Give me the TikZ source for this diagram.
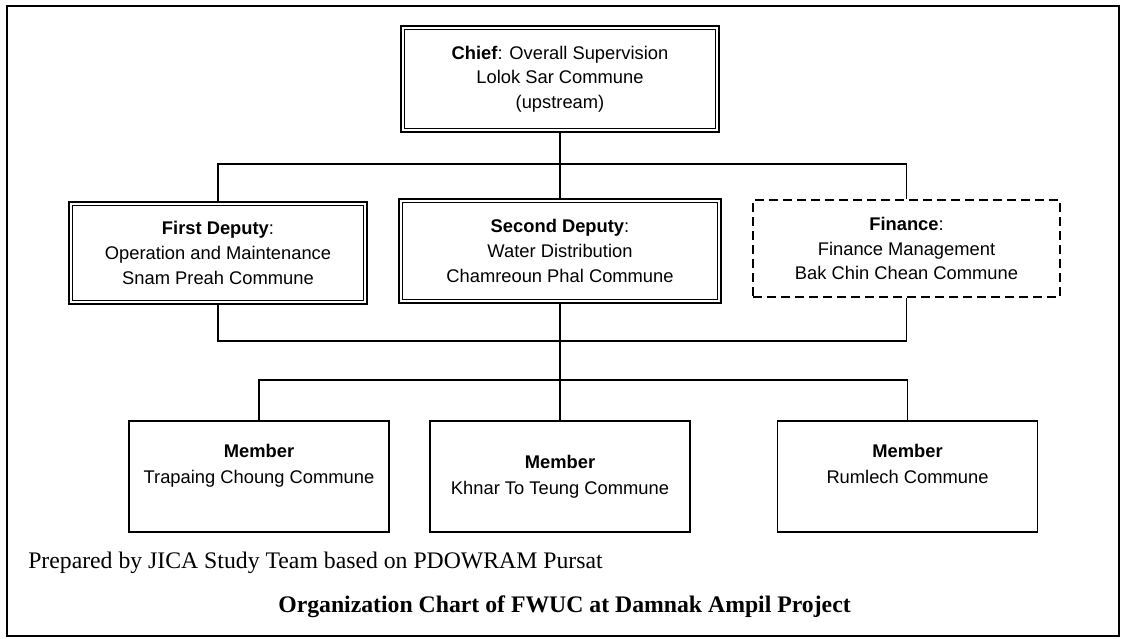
\documentclass[tikz,border=0pt]{standalone}
\usepackage{fontspec}
\setmainfont{Liberation Serif}
\newfontfamily\arialfont{Liberation Sans}
\tikzset{
  box/.style={draw, line width=1.1pt, align=center, inner sep=0pt,
    font=\arialfont\fontsize{13.75}{18.5}\selectfont},
  dblbox/.style={box, line width=1.4pt},
  dashbox/.style={box, line width=1pt, dash pattern=on 7pt off 3.5pt},
  membox/.style={box, minimum width=195pt, minimum height=83.25pt,
    font=\arialfont\fontsize{13.75}{19.5}\selectfont},
  link/.style={line width=0.8pt},
}
\begin{document}
\begin{tikzpicture}[x=0.75pt, y=-0.75pt]
      \useasboundingbox (0,0) rectangle (1122,639);
      \draw[line width=1.5pt] (7,6) rectangle (1119,636); % frame
      %
      \node[dblbox, minimum width=238.5pt, minimum height=79.5pt] (chief) at (560,79)
        {\textbf{Chief}: Overall Supervision\\Lolok Sar Commune\\(upstream)}; % top
      %
      \node[dblbox, minimum width=223.5pt, minimum height=76.5pt] (first) at (218,253)
        {\textbf{First Deputy}:\\Operation and Maintenance\\Snam Preah Commune}; % second row
      \node[dblbox, minimum width=241.5pt, minimum height=78pt] (second) at (560,251)
        {\textbf{Second Deputy}:\\Water Distribution\\Chamreoun Phal Commune};
      \node[dashbox, minimum width=230.25pt, minimum height=72.75pt] (finance) at (906.5,248.5)
        {\textbf{Finance}:\\Finance Management\\Bak Chin Chean Commune};
      %
      \foreach \n in {chief,first,second} % inner lines
        \draw[line width=0.75pt] ([shift={(4.5,4.5)}]\n.north west) rectangle ([shift={(-4.5,-4.5)}]\n.south east);
      %
      \node[membox] (trapaing) at (259,476.5)
        {\textbf{Member}\\Trapaing Choung Commune\\\mbox{}}; % members
      \node[membox] (khnar) at (560,476.5)
        {\textbf{Member}\\Khnar To Teung Commune};
      \node[membox] (rumlech) at (907.5,476.5)
        {\textbf{Member}\\Rumlech Commune\\\mbox{}};
      %
      \coordinate (upbus) at (560,164); % bus lines
      \coordinate (midbus) at (560,341);
      \coordinate (lowbus) at (560,380);
      %
      \draw[link] (chief.south) -- (second.north);
      \draw[link] (first.north) |- (upbus) -| (finance.north);
      \draw[link] (first.south) |- (midbus) -| (finance.south);
      \draw[link] (second.south) -- (khnar.north);
      \draw[link] (trapaing.north) |- (lowbus) -| (rumlech.north);
      %
      \node[anchor=west, inner sep=0pt, font=\fontsize{17.8}{20}\selectfont] (source) at (28,563)
        {Prepared by JICA Study Team based on PDOWRAM Pursat};
      \node[font=\bfseries\fontsize{17.8}{20}\selectfont] (title) at (564.5,607)
        {Organization Chart of FWUC at Damnak Ampil Project};
      %
    \end{tikzpicture}
\end{document}
